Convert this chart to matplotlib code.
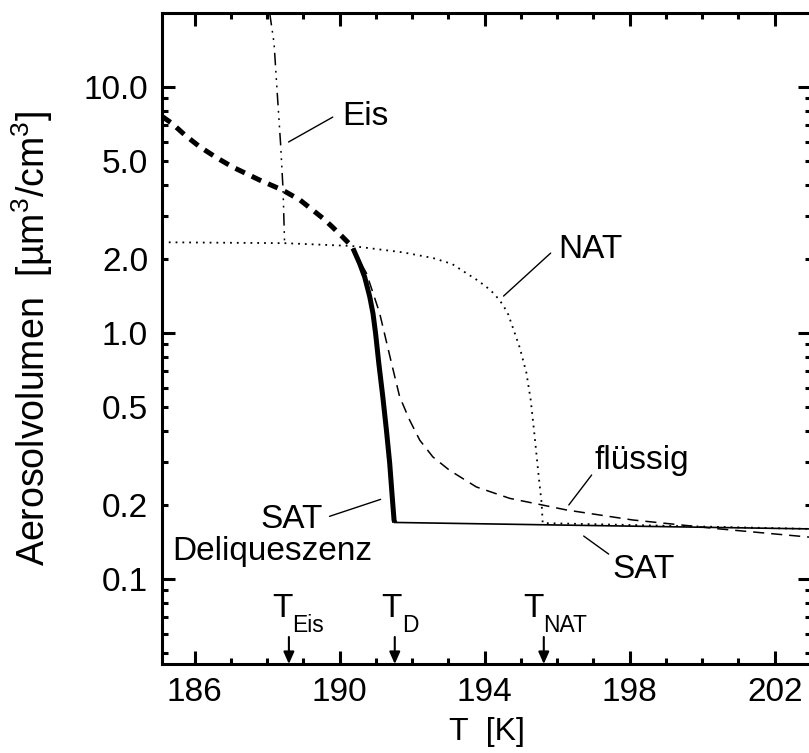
import matplotlib
matplotlib.use("Agg")
import matplotlib.pyplot as plt
from matplotlib.ticker import FixedLocator, FuncFormatter
from matplotlib.transforms import blended_transform_factory

plt.rcParams["font.family"] = ["Liberation Sans", "DejaVu Sans"]
plt.rcParams["mathtext.fontset"] = "custom"
plt.rcParams["mathtext.rm"] = "Liberation Sans"
plt.rcParams["mathtext.default"] = "regular"
plt.rcParams["lines.scale_dashes"] = False

# ---- aerosol volume [um^3/cm^3] versus temperature [K] ----
# liquid/ice branch below the deliquescence point (thick dashed)
T_ice_liq = [185.1, 185.37, 185.75, 186.14, 186.6, 187.05, 187.79, 188.43, 188.9,
             189.26, 189.55, 189.8, 190.08, 190.25, 190.36]
V_ice_liq = [7.6, 7.13, 6.35, 5.72, 5.17, 4.73, 4.19, 3.81, 3.48,
             3.16, 2.92, 2.70, 2.46, 2.32, 2.21]

# SAT deliquescence (thick solid)
T_deliq = [190.367, 190.55, 190.69, 190.83, 190.92, 190.99, 191.08, 191.19,
           191.29, 191.38, 191.45, 191.50, 191.52]
V_deliq = [2.21, 1.92, 1.69, 1.405, 1.20, 1.0, 0.753, 0.551,
           0.403, 0.296, 0.216, 0.174, 0.170]

# SAT (thin solid)
T_sat = [191.52, 196.0, 203.0]
V_sat = [0.170, 0.166, 0.160]

# liquid aerosol (thin dashed)
T_liq = [190.36, 190.74, 191.1, 191.43, 191.655, 191.93, 192.21, 192.57, 193.03,
         193.77, 194.69, 195.6, 196.26, 198.08, 200.48, 203.0]
V_liq = [2.21, 1.75, 1.21, 0.755, 0.551, 0.443, 0.367, 0.314, 0.277,
         0.237, 0.213, 0.200, 0.191, 0.174, 0.160, 0.148]

# NAT (dotted)
T_nat = [185.1, 188.5, 190.33, 191.74, 192.57, 193.1, 193.5, 193.8, 194.05,
         194.25, 194.41, 194.52, 194.65, 194.77, 194.97, 195.15, 195.27,
         195.38, 195.48, 195.57, 195.6, 203.0]
V_nat = [2.34, 2.32, 2.26, 2.13, 2.02, 1.91, 1.75, 1.64, 1.54,
         1.45, 1.36, 1.29, 1.19, 1.06, 0.87, 0.69, 0.534,
         0.378, 0.27, 0.204, 0.169, 0.160]

# ice (dash-dot-dot-dot)
T_eis = [188.07, 188.19, 188.29, 188.37, 188.44, 188.48]
V_eis = [20.0, 15.1, 8.9, 5.9, 3.8, 2.33]

# transition temperatures marked on the T axis
trans_names = ["Eis", "D", "NAT"]
trans_T = [188.6, 191.52, 195.63]

# axis ticks
x_major = [186, 190, 194, 198, 202]
x_minor = list(range(186, 204))
y_major = [0.1, 1.0, 10.0]
y_minor = [0.05, 0.06, 0.07, 0.08, 0.09, 0.2, 0.3, 0.4, 0.5, 0.6, 0.7, 0.8, 0.9,
           2, 3, 4, 5, 6, 7, 8, 9]
y_minor_labeled = [0.2, 0.5, 2.0, 5.0]

W, H = 809, 753
fig = plt.figure(figsize=(W / 100, H / 100), dpi=100)
ax = fig.add_axes([162 / W, 89 / H, 649 / W, 651 / H])
ax.set_yscale("log")
ax.set_xlim(185.1, 203.0)
ax.set_ylim(0.0452, 20.0)

ax.plot(T_ice_liq, V_ice_liq, color="k", lw=3.6, dashes=(7.5, 5.5),
        dash_capstyle="butt", solid_joinstyle="round")
ax.plot(T_deliq, V_deliq, color="k", lw=3.6, solid_capstyle="butt",
        solid_joinstyle="round")
ax.plot(T_sat, V_sat, color="k", lw=1.2)
ax.plot(T_liq, V_liq, color="k", lw=1.1, dashes=(8, 5))
ax.plot(T_nat, V_nat, color="k", lw=1.3, dashes=(1.3, 3.6))
ax.plot(T_eis, V_eis, color="k", lw=1.1,
        dashes=(9, 4, 1.3, 4, 1.3, 4, 1.3, 4))

# axes frame and ticks
for s in ax.spines.values():
    s.set_linewidth(2.2)
ax.xaxis.set_major_locator(FixedLocator(x_major))
ax.xaxis.set_minor_locator(FixedLocator(x_minor))
ax.yaxis.set_major_locator(FixedLocator(y_major))
ax.yaxis.set_minor_locator(FixedLocator(y_minor))
ax.xaxis.set_major_formatter(FuncFormatter(lambda v, p: f"{v:.0f}"))
ax.yaxis.set_major_formatter(FuncFormatter(lambda v, p: f"{v:.1f}"))
ax.yaxis.set_minor_formatter(FuncFormatter(
    lambda v, p: f"{v:.1f}" if any(abs(v - m) < 1e-6 for m in y_minor_labeled) else ""))
ax.tick_params(which="both", direction="in", top=True, right=True,
               width=2.2, labelsize=24)
ax.tick_params(which="major", length=9.4)
ax.tick_params(which="minor", length=4.6)
ax.tick_params(axis="y", which="both", pad=10)
ax.tick_params(axis="x", which="both", pad=9.5)

ax.set_xlabel("T  [K]", fontsize=23, va="baseline")
ax.xaxis.set_label_coords(0.5, (664 - 740) / 651)
ax.set_ylabel(r"Aerosolvolumen  [µm$^{3}$/cm$^{3}$]", fontsize=27, va="baseline")
ax.yaxis.set_label_coords((45 - 162) / 649, 0.5)

# transition arrows with labels
bt = blended_transform_factory(ax.transData, ax.transAxes)
t_offsets = [-12.2, -9.4, -15.1]
for name, t, dx in zip(trans_names, trans_T, t_offsets):
    ax.annotate("", xy=(t, 0.0), xytext=(t, 0.0415), xycoords=bt, textcoords=bt,
                arrowprops=dict(arrowstyle="-|>,head_length=0.45,head_width=0.2",
                                color="k", lw=1.5, mutation_scale=16,
                                shrinkA=0, shrinkB=0))
    ax.annotate("T", xy=(t, 0.0722), xycoords=bt, xytext=(dx, 0),
                textcoords="offset points", ha="left", va="baseline", fontsize=24)
    ax.annotate(name, xy=(t, 0.0492), xycoords=bt, xytext=(dx + 14.4, 0),
                textcoords="offset points", ha="left", va="baseline", fontsize=16.5)

# curve labels with leader lines
def leader(p0, p1):
    ax.annotate("", xy=p1, xytext=p0,
                arrowprops=dict(arrowstyle="-", color="k", lw=1.0,
                                shrinkA=0, shrinkB=0))

ax.text(190.06, 7.01, "Eis", fontsize=24, ha="left", va="baseline")
leader((189.81, 7.55), (188.59, 5.98))
ax.text(196.04, 2.018, "NAT", fontsize=24, ha="left", va="baseline")
leader((195.82, 2.115), (194.52, 1.414))
ax.text(197.03, 0.2805, "flüssig", fontsize=24, ha="left", va="baseline")
leader((196.95, 0.265), (196.32, 0.2002))
ax.text(197.53, 0.1009, "SAT", fontsize=24, ha="left", va="baseline")
leader((196.73, 0.1497), (197.42, 0.1264))
ax.text(189.53, 0.161, "SAT", fontsize=24, ha="right", va="baseline")
leader((189.72, 0.180), (191.13, 0.211))
ax.text(185.39, 0.1197, "Deliqueszenz", fontsize=24, ha="left", va="baseline")

fig.savefig("out.png", dpi=100)
